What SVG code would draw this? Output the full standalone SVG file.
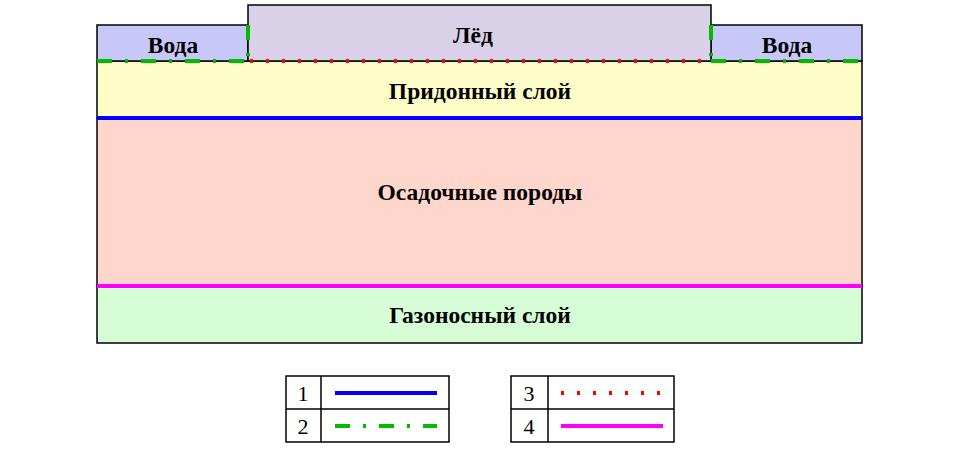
<svg xmlns="http://www.w3.org/2000/svg" width="960" height="450" viewBox="0 0 960 450">
<style>
.lbl{font-family:"Liberation Serif","Times New Roman",serif;font-weight:bold;font-size:23.5px;text-anchor:middle;fill:#000}
.num{font-family:"Liberation Serif","Times New Roman",serif;font-size:22px;text-anchor:middle;fill:#000}
.box{stroke:#000;stroke-width:1.5}
.tbl{fill:none;stroke:#000;stroke-width:1.5}
.l1{stroke:#0000ff;stroke-width:4;fill:none}
.l2{stroke:#00bb00;stroke-width:4;fill:none;stroke-dasharray:15 13 3 13}
.l3{stroke:#ff0000;stroke-width:4;fill:none;stroke-dasharray:3 13}
.l4{stroke:#ff00ff;stroke-width:4;fill:none}
</style>
<rect width="960" height="450" fill="#fff"/>
<g id="layer-gas"><rect class="box" x="97" y="286" width="765" height="57" fill="#d6fdd6"/><text class="lbl" x="480" y="323">Газоносный слой</text></g>
<g id="layer-sediment"><rect class="box" x="97" y="118" width="765" height="168" fill="#ffd6cc"/><text class="lbl" x="480" y="200">Осадочные породы</text></g>
<g id="layer-bottom"><rect class="box" x="97" y="61" width="765" height="57" fill="#fefdc8"/><text class="lbl" x="480" y="99">Придонный слой</text></g>
<g id="water-left"><rect class="box" x="97" y="25" width="151" height="36" fill="#c8c8f8"/><text class="lbl" x="173" y="53">Вода</text></g>
<g id="water-right"><rect class="box" x="711" y="25" width="151" height="36" fill="#c8c8f8"/><text class="lbl" x="787" y="53">Вода</text></g>
<g id="ice"><rect class="box" x="248" y="5" width="463" height="56" fill="#d8d1e8"/><text class="lbl" x="473" y="43">Лёд</text></g>
<g id="connectors">
<line class="l1" x1="97" y1="118" x2="862" y2="118"/>
<line class="l4" x1="97" y1="286" x2="862" y2="286"/>
<line class="l3" x1="250" y1="61" x2="710" y2="61"/>
<line class="l2" x1="97" y1="61" x2="248" y2="61"/>
<polyline class="l2" points="248,25 248,61"/>
<line class="l2" x1="711" y1="61" x2="862" y2="61"/>
<polyline class="l2" points="711,25 711,61"/>
</g>
<g id="legend-a">
<rect class="tbl" x="286" y="376" width="163" height="66"/>
<line class="tbl" x1="286" y1="409" x2="449" y2="409"/>
<line class="tbl" x1="321" y1="376" x2="321" y2="442"/>
<text class="num" x="303" y="401">1</text>
<text class="num" x="303" y="434">2</text>
<line class="l1" x1="335" y1="393" x2="437" y2="393"/>
<line class="l2" x1="335" y1="426" x2="437" y2="426"/>
</g>
<g id="legend-b">
<rect class="tbl" x="511" y="376" width="163" height="66"/>
<line class="tbl" x1="511" y1="409" x2="674" y2="409"/>
<line class="tbl" x1="548" y1="376" x2="548" y2="442"/>
<text class="num" x="529" y="401">3</text>
<text class="num" x="529" y="434">4</text>
<line class="l3" x1="561" y1="393" x2="663" y2="393"/>
<line class="l4" x1="561" y1="426" x2="663" y2="426"/>
</g>
</svg>
